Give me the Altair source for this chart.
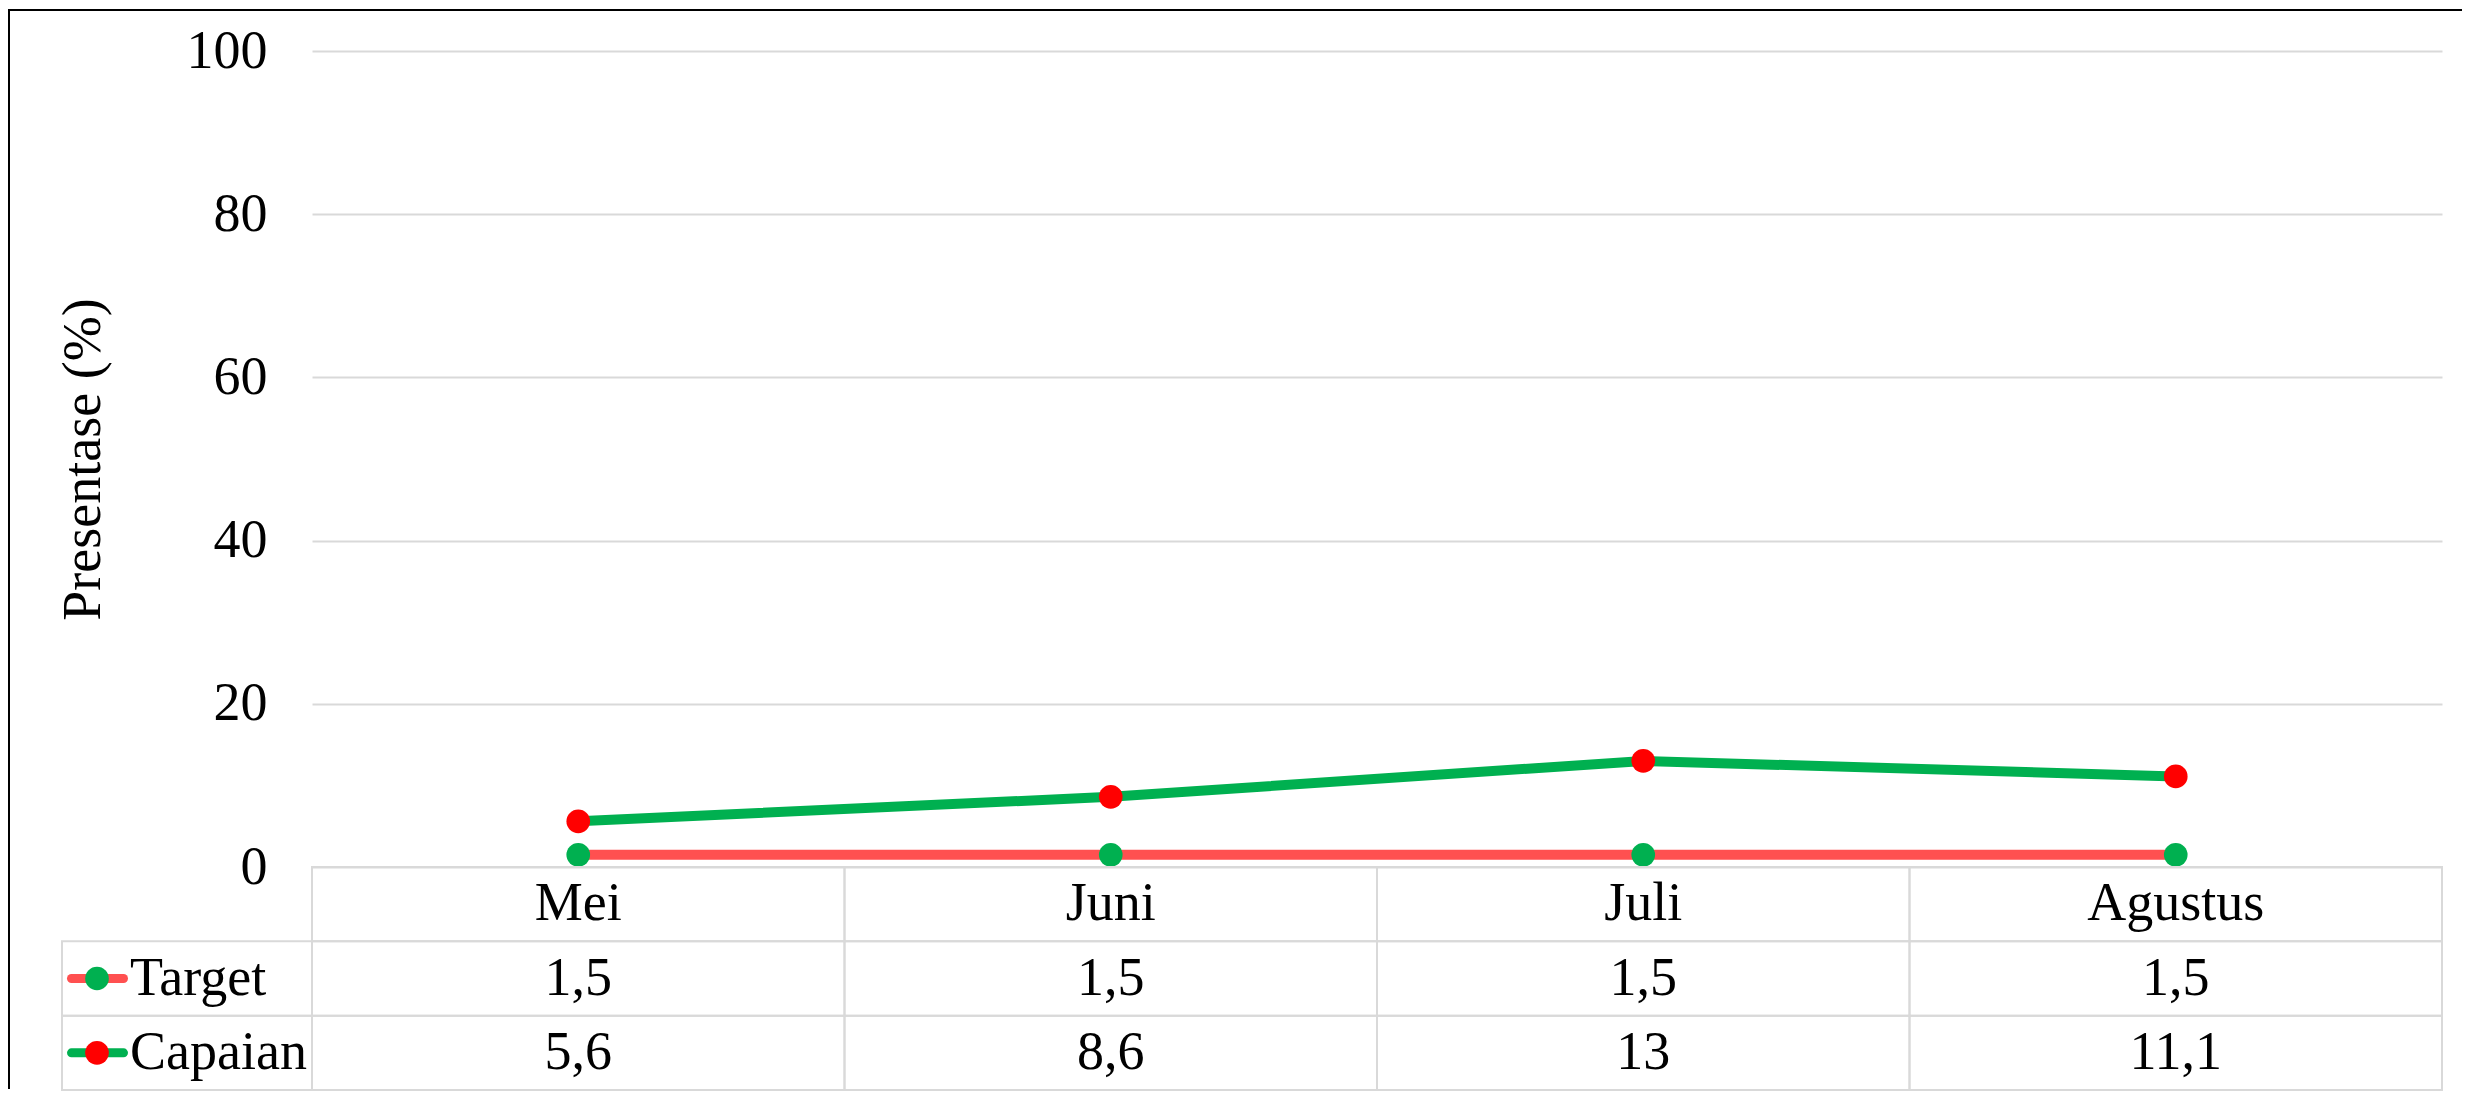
import altair as alt
import pandas as pd

# ---- data ----
months = ["Mei", "Juni", "Juli", "Agustus"]
series_names = ["Target", "Capaian"]
target = [1.5, 1.5, 1.5, 1.5]
capaian = [5.6, 8.6, 13, 11.1]
y_ticks = [0, 20, 40, 60, 80, 100]
row_names = ["header", "Target", "Capaian"]

# ---- styles ----
line_colors = ["#FF5050", "#00B050"]
marker_colors = ["#00B050", "#FF0000"]
FONT = "Liberation Serif"
FS = 54
GRID = "#D9D9D9"
W, H = 2130, 816
TABLE_H = 223

values_by_series = {"Target": target, "Capaian": capaian}
long = pd.DataFrame(
    [{"month": m, "series": s, "value": v}
     for s in series_names for m, v in zip(months, values_by_series[s])]
)


def fmt(v):
    return f"{v:g}".replace(".", ",")


cells = pd.DataFrame(
    [{"month": m, "row": "header", "label": m} for m in months]
    + [{"month": m, "row": s, "label": fmt(v)}
       for s in series_names for m, v in zip(months, values_by_series[s])]
)
labels_df = pd.DataFrame({"row": series_names, "series": series_names})

x_enc = alt.X(
    "month:N", sort=months,
    scale=alt.Scale(type="band", domain=months, paddingInner=0, paddingOuter=0),
    axis=None,
)
y_val = alt.Y(
    "value:Q",
    scale=alt.Scale(domain=[0, 100], nice=False, zero=True),
    axis=alt.Axis(
        values=y_ticks, title="Presentase (%)", grid=True, gridColor=GRID,
        gridWidth=2, domain=False, ticks=False, tickSize=0, labelPadding=45,
        titlePadding=76,
    ),
)
color_enc = alt.Color("series:N", scale=alt.Scale(domain=series_names, range=line_colors), legend=None)
fill_enc = alt.Fill("series:N", scale=alt.Scale(domain=series_names, range=marker_colors), legend=None)

lines = alt.Chart(long).mark_line(strokeWidth=10).encode(x=x_enc, y=y_val, color=color_enc)
points = alt.Chart(long).mark_circle(size=560, opacity=1).encode(x=x_enc, y=y_val, fill=fill_enc)
plot = alt.layer(lines, points)

y_tab = alt.Y(
    "row:N", sort=row_names,
    scale=alt.Scale(type="band", domain=row_names, range=[H, H + TABLE_H],
                    paddingInner=0, paddingOuter=0),
    axis=None,
)

cell_rects = alt.Chart(cells).mark_rect(fillOpacity=0, stroke=GRID, strokeWidth=2).encode(x=x_enc, y=y_tab)
cell_text = alt.Chart(cells).mark_text(font=FONT, fontSize=FS, color="black", baseline="middle").encode(
    x=x_enc, y=y_tab, text="label:N")
label_rects = alt.Chart(labels_df).mark_rect(fillOpacity=0, stroke=GRID, strokeWidth=2).encode(
    x=alt.value(-250), x2=alt.value(0), y=y_tab)
key_lines = alt.Chart(labels_df).mark_rule(strokeWidth=9, strokeCap="round").encode(
    x=alt.value(-240.5), x2=alt.value(-188.5), y=y_tab, color=color_enc)
key_points = alt.Chart(labels_df).mark_circle(size=560, opacity=1).encode(
    x=alt.value(-215), y=y_tab, fill=fill_enc)
key_text = alt.Chart(labels_df).mark_text(font=FONT, fontSize=FS, color="black", align="left",
                                          baseline="middle").encode(
    x=alt.value(-182), y=y_tab, text="series:N")
table = alt.layer(cell_rects, label_rects, cell_text, key_lines, key_points, key_text)

one = alt.Data(values=[{}])
frame_top = alt.Chart(one).mark_rule(color="black", strokeWidth=2).encode(
    x=alt.value(-303), x2=alt.value(2150), y=alt.value(-41))
frame_left = alt.Chart(one).mark_rule(color="black", strokeWidth=2).encode(
    x=alt.value(-303), y=alt.value(-42), y2=alt.value(1038))

chart = (
    alt.layer(plot, table, frame_top, frame_left)
    .resolve_scale(y="independent")
    .properties(width=W, height=H, padding=0)
    .configure(font=FONT)
    .configure_view(stroke="transparent", strokeWidth=0)
    .configure_axis(
        labelFont=FONT, labelFontSize=FS, labelColor="black",
        titleFont=FONT, titleFontSize=FS, titleFontWeight="normal", titleColor="black",
    )
)

chart.save("out.html", embed_options={"renderer": "svg", "actions": False})
